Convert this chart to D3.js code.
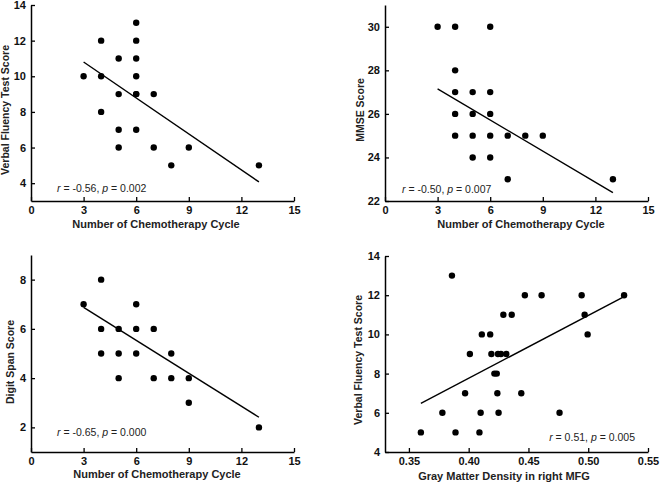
<!DOCTYPE html>
<html><head><meta charset="utf-8">
<script src="https://cdn.jsdelivr.net/npm/d3@7"></script>
<style>
body{margin:0;background:#fff;}
svg{display:block;font-family:"Liberation Sans",Arial,sans-serif;}
</style></head>
<body>
<svg id="c" width="660" height="483"></svg>
<script>
// Panel A: chemotherapy cycles vs verbal fluency
const cyclesA = [3,4,4,4,5,5,5,5,6,6,6,6,6,6,6,7,7,8,9,13];
const fluencyA = [10,12,10,8,11,9,7,6,13,12,11,10,9,9,7,9,6,5,6,5];
const fitA = [[3,10.8],[13,4.07]];
// Panel B: chemotherapy cycles vs MMSE
const cyclesB = [3,4,6,4,4,5,6,4,5,6,4,5,6,7,8,9,5,6,7,13];
const mmseB = [30,30,30,28,27,27,27,26,26,26,25,25,25,25,25,25,24,24,23,23];
const fitB = [[3,27.15],[13,22.38]];
// Panel C: chemotherapy cycles vs digit span
const cyclesC = [3,4,4,4,5,5,5,6,6,6,7,7,8,8,9,9,13];
const spanC = [7,8,6,5,6,5,4,7,6,5,6,4,5,4,4,3,2];
const fitC = [[3,6.87],[13,2.41]];
// Panel D: gray matter density vs verbal fluency
const gmdD = [0.360,0.378,0.386,0.389,0.397,0.401,0.409,0.410,0.411,0.418,0.419,0.4215,0.4235,0.424,0.4245,0.427,0.425,0.429,0.4315,0.436,0.444,0.447,0.461,0.476,0.4945,0.497,0.4995,0.530];
const fluencyD = [5,6,13,5,7,9,5,6,10,10,9,8,8,7,9,9,6,11,9,11,7,12,12,6,12,11,10,12];
const fitD = [[0.360,6.48],[0.530,11.93]];

const xTicksCycle = [0,3,6,9,12,15];
const xTicksGmd = [0.35,0.40,0.45,0.50,0.55];

const svg = d3.select("#c");

const panels = [
  {xs:cyclesA, ys:fluencyA, fit:fitA, x0:31, x1:294, yTop:5, yBot:201,
   xDom:[0,15], yDom:[3,14], xTicks:xTicksCycle, yTicks:[4,6,8,10,12,14], xFmt:d3.format("d"),
   xTitle:"Number of Chemotherapy Cycle", xtx:156, xty:228,
   yTitle:"Verbal Fluency Test Score", ytx:9, yty:110,
   ann:[["r","i"],[" = -0.56, ",""],["p","i"],[" = 0.002",""]], ax:57, ay:192, anchor:"start"},
  {xs:cyclesB, ys:mmseB, fit:fitB, x0:385, x1:648, yTop:5, yBot:201,
   xDom:[0,15], yDom:[22,31], xTicks:xTicksCycle, yTicks:[22,24,26,28,30], xFmt:d3.format("d"),
   xTitle:"Number of Chemotherapy Cycle", xtx:521, xty:228,
   yTitle:"MMSE Score", ytx:364, yty:110,
   ann:[["r","i"],[" = -0.50, ",""],["p","i"],[" = 0.007",""]], ax:402, ay:193, anchor:"start"},
  {xs:cyclesC, ys:spanC, fit:fitC, x0:31, x1:294, yTop:255, yBot:452,
   xDom:[0,15], yDom:[1,9], xTicks:xTicksCycle, yTicks:[2,4,6,8], xFmt:d3.format("d"),
   xTitle:"Number of Chemotherapy Cycle", xtx:157, xty:478,
   yTitle:"Digit Span Score", ytx:14, yty:362,
   ann:[["r","i"],[" = -0.65, ",""],["p","i"],[" = 0.000",""]], ax:57, ay:436, anchor:"start"},
  {xs:gmdD, ys:fluencyD, fit:fitD, x0:385, x1:648, yTop:256, yBot:452,
   xDom:[0.33,0.55], yDom:[4,14], xTicks:xTicksGmd, yTicks:[4,6,8,10,12,14], xFmt:d3.format(".2f"),
   xTitle:"Gray Matter Density in right MFG", xtx:504, xty:480,
   yTitle:"Verbal Fluency Test Score", ytx:362, yty:360,
   ann:[["r","i"],[" = 0.51, ",""],["p","i"],[" = 0.005",""]], ax:635, ay:441, anchor:"end"}
];

panels.forEach(p => {
  const x = d3.scaleLinear().domain(p.xDom).range([p.x0, p.x1]);
  const y = d3.scaleLinear().domain(p.yDom).range([p.yBot, p.yTop]);
  const g = svg.append("g");

  const xa = g.append("g").attr("transform", `translate(0,${p.yBot})`)
    .call(d3.axisBottom(x).tickValues(p.xTicks).tickFormat(p.xFmt).tickSizeInner(-4).tickSizeOuter(0).tickPadding(5));
  const ya = g.append("g").attr("transform", `translate(${p.x0},0)`)
    .call(d3.axisLeft(y).tickValues(p.yTicks).tickSizeInner(-4).tickSizeOuter(0).tickPadding(5));
  [xa, ya].forEach(a => {
    a.select(".domain").attr("stroke", "#000").attr("stroke-width", 1.5);
    a.selectAll(".tick line").attr("stroke", "#000").attr("stroke-width", 1.3);
    a.selectAll(".tick text").attr("fill", "#111").style("font-size", "11px").style("font-weight", "bold");
  });

  g.append("line")
    .attr("x1", x(p.fit[0][0])).attr("y1", y(p.fit[0][1]))
    .attr("x2", x(p.fit[1][0])).attr("y2", y(p.fit[1][1]))
    .attr("stroke", "#000").attr("stroke-width", 1.4);

  g.selectAll("circle").data(p.xs.map((v, i) => [v, p.ys[i]])).enter().append("circle")
    .attr("cx", d => x(d[0])).attr("cy", d => y(d[1])).attr("r", 3.2).attr("fill", "#000");

  g.append("text").attr("x", p.xtx).attr("y", p.xty).attr("text-anchor", "middle")
    .style("font-size", "11px").style("font-weight", "bold").attr("fill", "#222").text(p.xTitle);

  g.append("text").attr("transform", `translate(${p.ytx},${p.yty}) rotate(-90)`).attr("text-anchor", "middle")
    .style("font-size", "10.5px").style("font-weight", "bold").attr("fill", "#222").text(p.yTitle);

  const t = g.append("text").attr("x", p.ax).attr("y", p.ay).attr("text-anchor", p.anchor)
    .style("font-size", "10.5px").attr("fill", "#222");
  p.ann.forEach(s => t.append("tspan").style("font-style", s[1] === "i" ? "italic" : "normal").text(s[0]));
});
</script>
</body></html>
